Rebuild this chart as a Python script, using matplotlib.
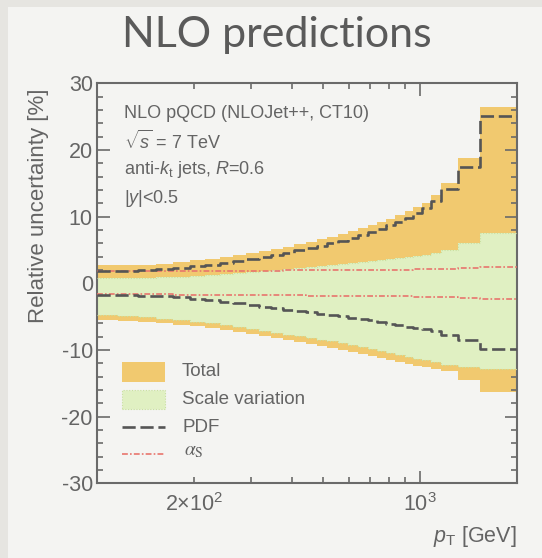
import numpy as np
import matplotlib
matplotlib.use("Agg")
import matplotlib.pyplot as plt
from matplotlib.patches import Rectangle
from matplotlib.lines import Line2D

plt.rcParams['font.family'] = ['Liberation Sans', 'DejaVu Sans']
plt.rcParams['mathtext.fontset'] = 'custom'
plt.rcParams['mathtext.rm'] = 'Liberation Sans'
plt.rcParams['mathtext.it'] = 'Liberation Sans:italic'
plt.rcParams['axes.unicode_minus'] = False

# pT bin edges [GeV], |y|<0.5
pt_edges = [100, 116, 134, 152, 172, 194, 216, 240, 264, 290, 318, 346, 376,
            408, 442, 478, 516, 556, 598, 642, 688, 736, 786, 838, 894, 952,
            1012, 1076, 1162, 1310, 1530, 1992]

# relative uncertainties per bin [%]
total_up = [2.7, 2.7, 2.8, 2.95, 3.2, 3.45, 3.7, 4.0, 4.3, 4.6, 4.9, 5.2, 5.5,
            5.85, 6.2, 6.6, 7.0, 7.4, 7.8, 8.3, 8.75, 9.2, 9.7, 10.2, 10.8,
            11.4, 12.1, 13.2, 15.1, 18.75, 26.4]
total_dn = [-5.5, -5.6, -5.75, -5.95, -6.2, -6.45, -6.75, -7.05, -7.35, -7.65,
            -7.95, -8.25, -8.5, -8.8, -9.1, -9.4, -9.7, -10.0, -10.3, -10.6,
            -10.9, -11.2, -11.5, -11.8, -12.1, -12.35, -12.6, -12.8, -13.1,
            -14.5, -16.3]
scale_up = [0.75, 0.75, 0.8, 0.9, 1.0, 1.15, 1.3, 1.45, 1.6, 1.75, 1.9, 2.05,
            2.2, 2.35, 2.5, 2.65, 2.8, 2.95, 3.1, 3.25, 3.4, 3.55, 3.7, 3.85,
            4.0, 4.15, 4.3, 4.5, 5.05, 6.0, 7.5]
scale_dn = [-4.8, -4.95, -5.1, -5.3, -5.5, -5.75, -6.0, -6.3, -6.6, -6.9, -7.2,
            -7.45, -7.7, -7.95, -8.2, -8.45, -8.7, -8.95, -9.2, -9.5, -9.8,
            -10.1, -10.4, -10.7, -11.0, -11.3, -11.55, -11.8, -12.2, -12.5,
            -12.9]
pdf_up = [1.9, 1.9, 1.95, 2.1, 2.3, 2.55, 2.8, 3.1, 3.4, 3.7, 4.0, 4.3, 4.6,
          4.95, 5.3, 5.65, 6.0, 6.4, 6.8, 7.3, 7.75, 8.2, 8.7, 9.2, 9.8, 10.5,
          11.25, 12.4, 14.1, 17.5, 25.1]
pdf_dn = [-1.75, -1.8, -1.85, -1.95, -2.1, -2.3, -2.5, -2.75, -3.0, -3.25,
          -3.5, -3.75, -3.95, -4.15, -4.35, -4.55, -4.75, -4.95, -5.15, -5.35,
          -5.55, -5.8, -6.05, -6.3, -6.5, -6.7, -6.9, -7.1, -7.8, -8.55, -9.8]
as_up = [1.85, 1.85, 1.85, 1.85, 1.87, 1.87, 1.88, 1.88, 1.9, 1.9, 1.9, 1.92,
         1.93, 1.94, 1.95, 1.96, 1.97, 1.98, 2.0, 2.0, 2.02, 2.03, 2.05, 2.06,
         2.07, 2.08, 2.1, 2.12, 2.15, 2.25, 2.45]
as_dn = [-1.65, -1.65, -1.66, -1.67, -1.68, -1.7, -1.71, -1.72, -1.74, -1.75,
         -1.77, -1.78, -1.8, -1.81, -1.83, -1.85, -1.86, -1.88, -1.9, -1.91,
         -1.92, -1.94, -1.95, -1.96, -1.97, -1.98, -1.99, -2.0, -2.1, -2.2,
         -2.4]

ORANGE = '#f1c96f'
GREEN = '#e0f0c2'
GREEN_EDGE = '#c9e0a0'
DARK = '#555555'
RED = '#e8756d'
TXT = '#646464'
AXC = '#6a6a6a'


def closed(vals):
    # repeat the last value so step='post' covers the final bin
    return np.append(vals, vals[-1])


W, H = 542, 558
fig = plt.figure(figsize=(W / 100, H / 100), dpi=100)
fig.patch.set_facecolor('#e6e5e1')
fig.patches.append(Rectangle((8 / W, 0), 1, 1 - 7 / H, transform=fig.transFigure,
                             facecolor='#f4f4f2', edgecolor='none', zorder=-10))

fig.text(277 / W, 1 - 47 / H, 'NLO predictions', fontsize=31, color='#5a5a5a',
         family=['Lato', 'DejaVu Sans'], ha='center', va='baseline')

x0, x1, y0, y1 = 97, 517, 83.3, 483.3
ax = fig.add_axes([x0 / W, 1 - y1 / H, (x1 - x0) / W, (y1 - y0) / H])
ax.set_facecolor('none')

e = np.array(pt_edges, dtype=float)
ax.fill_between(e, closed(total_dn), closed(total_up), step='post',
                color=ORANGE, linewidth=0, zorder=1)
ax.fill_between(e, closed(scale_dn), closed(scale_up), step='post',
                color=GREEN, linewidth=0, zorder=2)
for v in (scale_up, scale_dn):
    ax.step(e, closed(v), where='post', color=GREEN_EDGE, lw=0.8,
            ls=(0, (1, 1.5)), zorder=3)
for v in (as_up, as_dn):
    ax.step(e, closed(v), where='post', color=RED, lw=1.2,
            dashes=(3.5, 1.3, 1, 1.3), zorder=4)
for v in (pdf_up, pdf_dn):
    ax.step(e, closed(v), where='post', color=DARK, lw=1.9,
            dashes=(5, 1.8), zorder=5)

ax.set_xscale('log')
ax.set_xlim(100, 1992)
ax.set_ylim(-30, 30)

ax.set_yticks([-30, -20, -10, 0, 10, 20, 30],
              labels=['-30', '-20', '-10', '0', '10', '20', '30'])
ax.set_yticks(np.arange(-28, 30, 2), minor=True)
ax.set_xticks([1000], labels=[r'$\mathregular{10^{3}}$'])
ax.set_xticks([200, 300, 400, 500, 600, 700, 800, 900],
              labels=[r'$\mathregular{2{\times}10^{2}}$', '', '', '', '', '', '', ''],
              minor=True)

ax.tick_params(which='both', direction='in', top=True, right=True,
               color=AXC, width=1.2, labelcolor=TXT, labelsize=15.5)
ax.tick_params(which='major', length=9)
ax.tick_params(which='minor', length=4.2)
ax.tick_params(axis='y', pad=3)
ax.tick_params(axis='x', which='both', pad=7)
for s in ax.spines.values():
    s.set_color(AXC)
    s.set_linewidth(1.5)

ax.text(-0.14, 1.0 - 5 / 400, 'Relative uncertainty [%]', transform=ax.transAxes,
        rotation=90, ha='center', va='top', fontsize=16, color=TXT)
ax.text(1.0, -0.134, r'$p_{\mathrm{T}}$ [GeV]', transform=ax.transAxes,
        ha='right', va='center', fontsize=15.5, color=TXT)

# labels of the calculation
def fx(px):
    return (px - x0) / (x1 - x0)


def fy(py):
    return (y1 - py) / (y1 - y0)


info = ['NLO pQCD (NLOJet++, CT10)',
        r'$\mathregular{\sqrt{\mathit{s}}}$ = 7 TeV',
        r'anti-$k_{\mathregular{t}}$ jets, $R$=0.6',
        r'|$y$|<0.5']
for i, line in enumerate(info):
    ax.text(fx(124), fy(113 + 28.5 * i), line, transform=ax.transAxes,
            ha='left', va='center', fontsize=13, color=TXT)

# legend
ax.add_patch(Rectangle((fx(122), fy(382)), fx(165) - fx(122), fy(362) - fy(382),
                       transform=ax.transAxes, facecolor=ORANGE, edgecolor='none',
                       zorder=6))
ax.add_patch(Rectangle((fx(122), fy(409)), fx(165) - fx(122), fy(390) - fy(409),
                       transform=ax.transAxes, facecolor=GREEN, edgecolor=GREEN_EDGE,
                       lw=0.8, ls=(0, (1, 1.5)), zorder=6))
ax.add_line(Line2D([fx(122), fx(165)], [fy(427), fy(427)], transform=ax.transAxes,
                   color=DARK, lw=1.9, dashes=(5, 1.8), zorder=6))
ax.add_line(Line2D([fx(122), fx(165)], [fy(454), fy(454)], transform=ax.transAxes,
                   color=RED, lw=1.2, dashes=(3.5, 1.3, 1, 1.3), zorder=6))
leg_labels = ['Total', 'Scale variation', 'PDF']
for i, lab in enumerate(leg_labels):
    ax.text(fx(182), fy(372 + 27.5 * i), lab, transform=ax.transAxes,
            ha='left', va='center', fontsize=13.5, color=TXT)
ax.text(fx(184), fy(452), r'$\alpha_{\mathrm{S}}$', transform=ax.transAxes,
        ha='left', va='center', fontsize=14, color=TXT,
        math_fontfamily='stix')

fig.savefig('out.png', dpi=100, facecolor=fig.get_facecolor())
